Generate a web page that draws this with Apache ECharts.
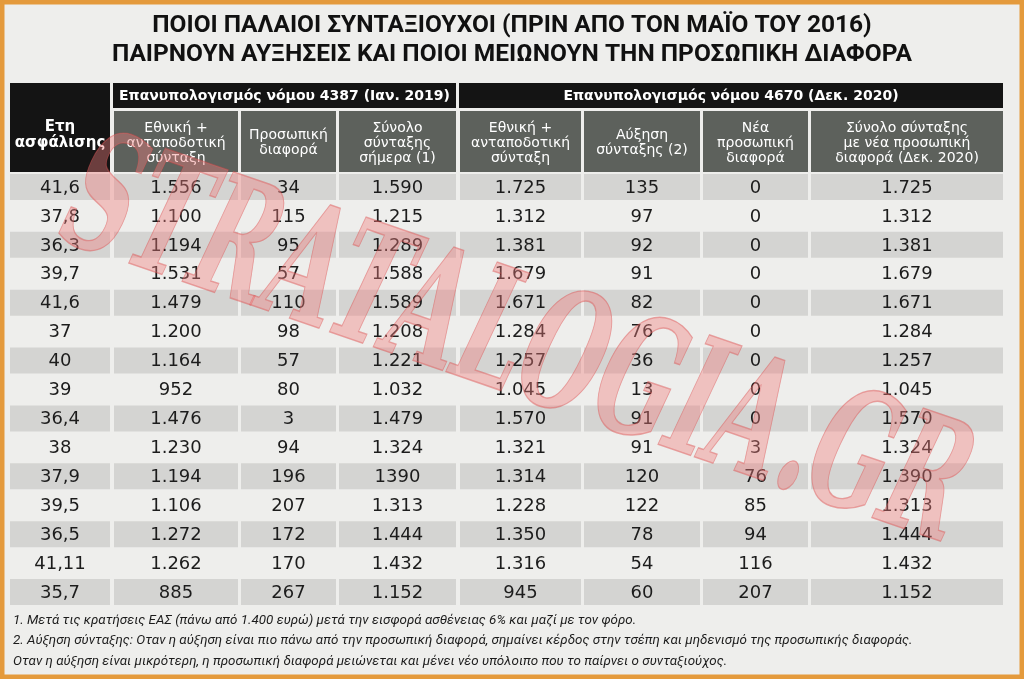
<!DOCTYPE html>
<html>
<head>
<meta charset="utf-8">
<script src="https://cdn.jsdelivr.net/npm/echarts@6/dist/echarts.min.js"></script>
<style>
  html, body { margin: 0; padding: 0; background: #eeeeec; }
  #main { width: 1024px; height: 679px; }
</style>
</head>
<body>
<div id="main"></div>
<script>
// στοιχεία πίνακα (όπως τυπώθηκαν)
var years            = ['41,6','37,8','36,3','39,7','41,6','37','40','39','36,4','38','37,9','39,5','36,5','41,11','35,7'];
var pension2019      = ['1.556','1.100','1.194','1.531','1.479','1.200','1.164','952','1.476','1.230','1.194','1.106','1.272','1.262','885'];
var personalDiff2019 = ['34','115','95','57','110','98','57','80','3','94','196','207','172','170','267'];
var total2019        = ['1.590','1.215','1.289','1.588','1.589','1.208','1.221','1.032','1.479','1.324','1390','1.313','1.444','1.432','1.152'];
var pension2020      = ['1.725','1.312','1.381','1.679','1.671','1.284','1.257','1.045','1.570','1.321','1.314','1.228','1.350','1.316','945'];
var increase2020     = ['135','97','92','91','82','76','36','13','91','91','120','122','78','54','60'];
var newDiff2020      = ['0','0','0','0','0','0','0','0','0','3','76','85','94','116','207'];
var total2020        = ['1.725','1.312','1.381','1.679','1.671','1.284','1.257','1.045','1.570','1.324','1.390','1.313','1.444','1.432','1.152'];

var columnHeaders = [
  'Ετη\nασφάλισης',
  'Εθνική +\nανταποδοτική\nσύνταξη',
  'Προσωπική\nδιαφορά',
  'Σύνολο\nσύνταξης\nσήμερα (1)',
  'Εθνική +\nανταποδοτική\nσύνταξη',
  'Αύξηση\nσύνταξης (2)',
  'Νέα\nπροσωπική\nδιαφορά',
  'Σύνολο σύνταξης\nμε νέα προσωπική\nδιαφορά (Δεκ. 2020)'
];
var groupHeaders = ['Επανυπολογισμός νόμου 4387 (Ιαν. 2019)', 'Επανυπολογισμός νόμου 4670 (Δεκ. 2020)'];

var titleText = 'ΠΟΙΟΙ ΠΑΛΑΙΟΙ ΣΥΝΤΑΞΙΟΥΧΟΙ (ΠΡΙΝ ΑΠΟ ΤΟΝ ΜΑΪΟ ΤΟΥ 2016)\nΠΑΙΡΝΟΥΝ ΑΥΞΗΣΕΙΣ ΚΑΙ ΠΟΙΟΙ ΜΕΙΩΝΟΥΝ ΤΗΝ ΠΡΟΣΩΠΙΚΗ ΔΙΑΦΟΡΑ';
var notes = [
  '1. Μετά τις κρατήσεις ΕΑΣ (πάνω από 1.400 ευρώ) μετά την εισφορά ασθένειας 6% και μαζί με τον φόρο.',
  '2. Αύξηση σύνταξης: Οταν η αύξηση είναι πιο πάνω από την προσωπική διαφορά, σημαίνει κέρδος στην τσέπη και μηδενισμό της προσωπικής διαφοράς.',
  'Οταν η αύξηση είναι μικρότερη, η προσωπική διαφορά μειώνεται και μένει νέο υπόλοιπο που το παίρνει ο συνταξιούχος.'
];

var columns = [years, pension2019, personalDiff2019, total2019, pension2020, increase2020, newDiff2020, total2020];

// διάταξη: άκρα στηλών σε px
var colEdges = [[10,110],[114,238],[241,336],[339,456],[460,581],[584,700],[703,808],[811,1003]];
var groupSpans = [[1,3],[4,7]];

var cellData = [];
columns.forEach(function (col, c) {
  col.forEach(function (v, r) { cellData.push([c, r]); });
});

var chart = echarts.init(document.getElementById('main'));

function renderCell(params, api) {
  var c = api.value(0), r = api.value(1);
  var x0 = api.coord([colEdges[c][0], r])[0];
  var x1 = api.coord([colEdges[c][1], r])[0];
  var yc = api.coord([0, r])[1];
  var h = api.size([0, 1])[1];
  var children = [];
  if (r % 2 === 0) {
    children.push({ type: 'rect', shape: { x: x0, y: yc - h / 2 + 1.5, width: x1 - x0, height: h - 3 },
      style: { fill: '#d4d4d2' } });
  }
  children.push({ type: 'text', style: { text: columns[c][r], x: (x0 + x1) / 2, y: yc + 1,
    align: 'center', verticalAlign: 'middle', fill: '#1c1c1c',
    fontSize: 18, fontFamily: 'DejaVu Sans' } });
  return { type: 'group', children: children };
}

function renderColumnHeader(params, api) {
  var c = api.value(0);
  var first = c === 0;
  var p0 = api.coord([colEdges[c][0], first ? 0 : 28]);
  var p1 = api.coord([colEdges[c][1], 89]);
  var pc = api.coord([0, first ? 52 : 60]);
  return { type: 'group', children: [
    { type: 'rect', shape: { x: p0[0], y: p0[1], width: p1[0] - p0[0], height: p1[1] - p0[1] },
      style: { fill: first ? '#141414' : '#5d615c' } },
    { type: 'text', style: { text: columnHeaders[c], x: (p0[0] + p1[0]) / 2, y: pc[1],
      align: 'center', verticalAlign: 'middle', fill: '#ffffff',
      fontSize: first ? 15 : 14, fontWeight: first ? 'bold' : 'normal',
      fontFamily: 'DejaVu Sans', lineHeight: first ? 16 : 15 } }
  ] };
}

function renderGroupHeader(params, api) {
  var g = api.value(0);
  var span = groupSpans[g];
  var p0 = api.coord([colEdges[span[0]][0] - 1, 0]);
  var p1 = api.coord([colEdges[span[1]][1], 25]);
  return { type: 'group', children: [
    { type: 'rect', shape: { x: p0[0], y: p0[1], width: p1[0] - p0[0], height: p1[1] - p0[1] },
      style: { fill: '#141414' } },
    { type: 'text', style: { text: groupHeaders[g], x: (p0[0] + p1[0]) / 2, y: (p0[1] + p1[1]) / 2 + 1,
      align: 'center', verticalAlign: 'middle', fill: '#ffffff',
      fontSize: 14, fontWeight: 'bold', fontFamily: 'DejaVu Sans' } }
  ] };
}

var option = {
  backgroundColor: '#eeeeec',
  animation: false,
  title: [
    {
      text: titleText,
      left: 'center',
      top: 6,
      textStyle: { fontSize: 24.5, fontWeight: 'bold', color: '#111',
        fontFamily: 'Roboto', lineHeight: 29 }
    },
    {
      text: notes.join('\n'),
      left: 8,
      top: 605,
      textStyle: { fontSize: 13.4, fontStyle: 'italic', fontWeight: 'normal', color: '#1c1c1c',
        fontFamily: 'Roboto', lineHeight: 20.5 }
    }
  ],
  grid: [
    { left: 0, right: 0, top: 172.5, height: 434 },
    { left: 0, right: 0, top: 83, height: 90 }
  ],
  xAxis: [
    { type: 'value', gridIndex: 0, min: 0, max: 1024, show: false },
    { type: 'value', gridIndex: 1, min: 0, max: 1024, show: false }
  ],
  yAxis: [
    { type: 'category', gridIndex: 0, data: years.map(function (y, i) { return i; }), inverse: true, show: false },
    { type: 'value', gridIndex: 1, min: 0, max: 90, inverse: true, show: false }
  ],
  series: [
    { type: 'custom', xAxisIndex: 0, yAxisIndex: 0, renderItem: renderCell, data: cellData, silent: true },
    { type: 'custom', xAxisIndex: 1, yAxisIndex: 1, renderItem: renderColumnHeader,
      data: columnHeaders.map(function (t, i) { return [i]; }), silent: true },
    { type: 'custom', xAxisIndex: 1, yAxisIndex: 1, renderItem: renderGroupHeader,
      data: groupHeaders.map(function (t, i) { return [i]; }), silent: true }
  ],
  graphic: [
    {
      type: 'text',
      x: 515, y: 350,
      rotation: -0.33,
      scaleX: 0.56,
      z: 100,
      silent: true,
      style: {
        text: 'STRATALOGIA.GR',
        align: 'center', verticalAlign: 'middle',
        font: 'italic bold 165px "DejaVu Serif"',
        fill: 'rgba(240,125,125,0.40)',
        stroke: 'rgba(215,70,70,0.45)',
        lineWidth: 1.5
      }
    },
    {
      type: 'rect',
      z: 101,
      silent: true,
      shape: { x: 2, y: 2, width: 1020, height: 675 },
      style: { fill: 'none', stroke: '#e49a3c', lineWidth: 5 }
    }
  ]
};

chart.setOption(option);
</script>
</body>
</html>
